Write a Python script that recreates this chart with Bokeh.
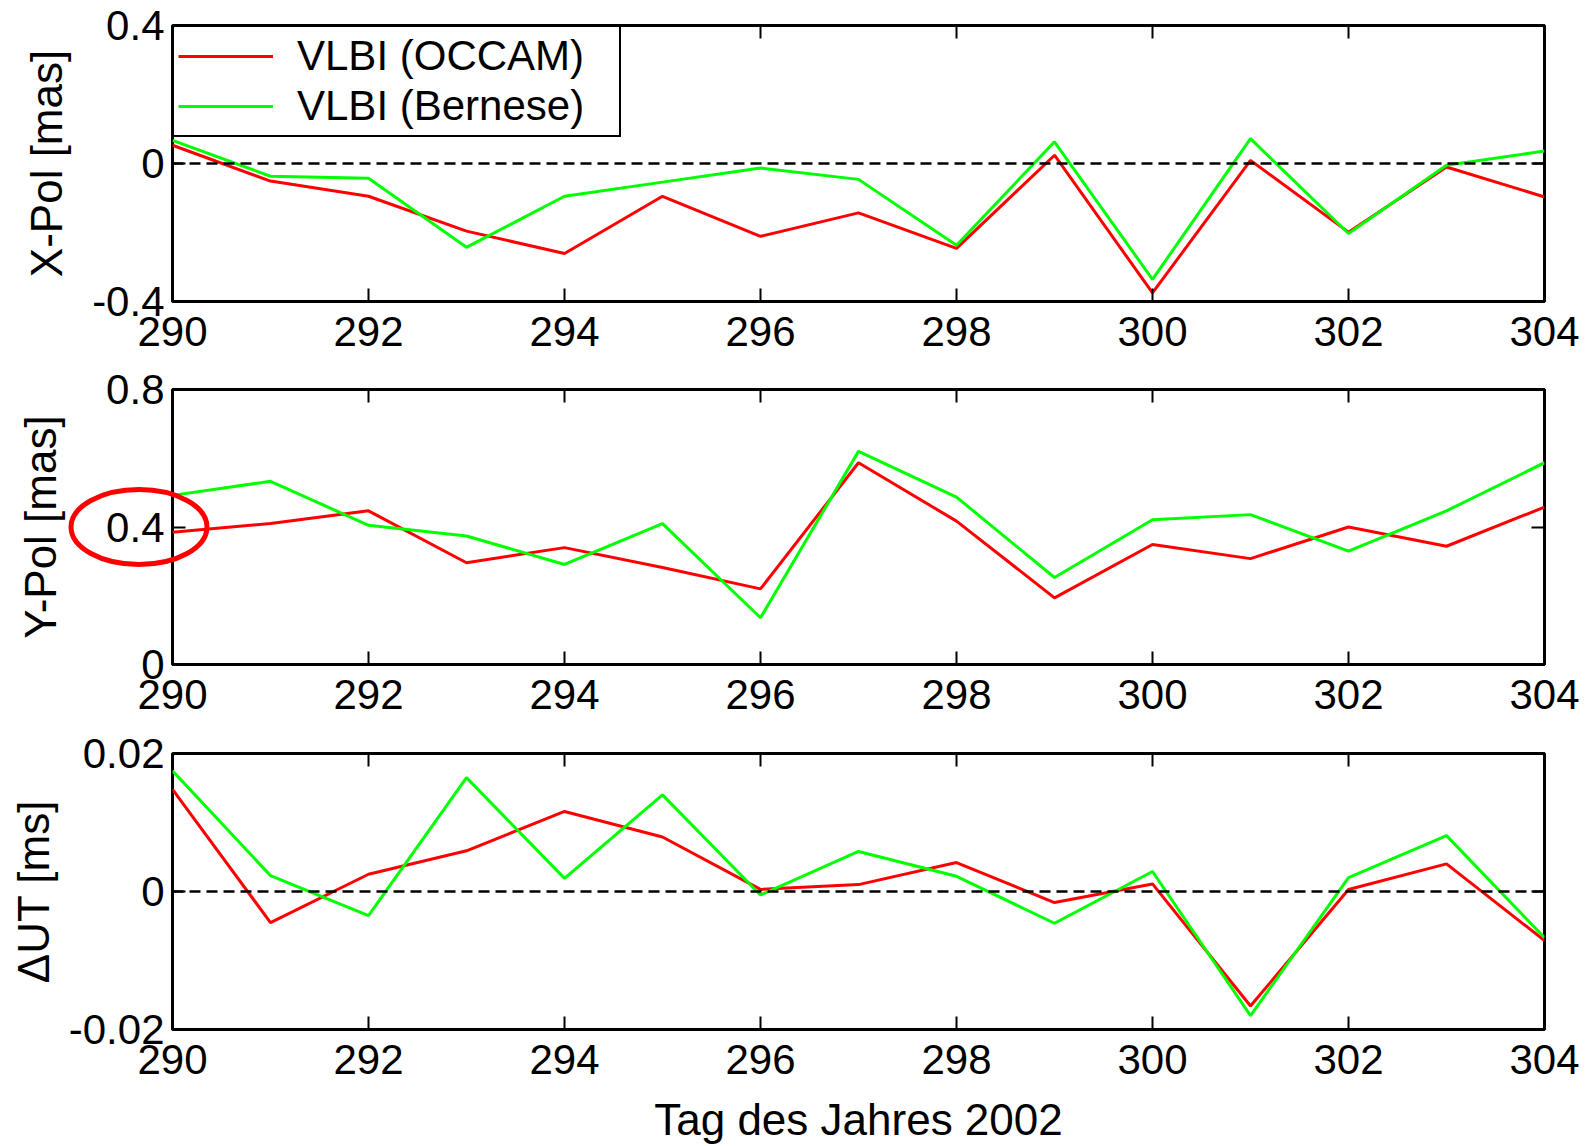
from bokeh.plotting import figure
from bokeh.layouts import column
from bokeh.models import (Range1d, FixedTicker, LinearAxis, Span, Legend,
                          LegendItem, GridBox, CustomLabelingPolicy)
from bokeh.embed import file_html
from bokeh.resources import INLINE

# ---- data: day of year 2002, EOP differences ----
DAYS = [290, 291, 292, 293, 294, 295, 296, 297, 298, 299, 300, 301, 302, 303, 304]
DAY_TICKS = [290, 292, 294, 296, 298, 300, 302, 304]
DAY_TICK_LABELS = ["290", "292", "294", "296", "298", "300", "302", "304"]

XPOL_OCCAM = [0.053, -0.051, -0.095, -0.196, -0.261, -0.095, -0.211, -0.143,
              -0.246, 0.024, -0.375, 0.009, -0.199, -0.010, -0.097]
XPOL_BERNESE = [0.067, -0.037, -0.043, -0.243, -0.095, -0.054, -0.013, -0.046,
                -0.237, 0.063, -0.336, 0.072, -0.203, -0.005, 0.036]

YPOL_OCCAM = [0.385, 0.410, 0.447, 0.296, 0.340, 0.282, 0.220, 0.587,
              0.417, 0.194, 0.349, 0.308, 0.400, 0.344, 0.458]
YPOL_BERNESE = [0.492, 0.533, 0.405, 0.374, 0.291, 0.410, 0.136, 0.620,
                0.487, 0.253, 0.421, 0.436, 0.330, 0.447, 0.587]

DUT_OCCAM = [0.0148, -0.0045, 0.0025, 0.0059, 0.0116, 0.0079, 0.0003, 0.0010,
             0.0042, -0.0016, 0.0011, -0.0166, 0.0003, 0.0040, -0.0071]
DUT_BERNESE = [0.0175, 0.0023, -0.0035, 0.0165, 0.0019, 0.0140, -0.0005, 0.0058,
               0.0022, -0.0046, 0.0029, -0.0180, 0.0020, 0.0081, -0.0067]

XPOL_TICKS = [-0.4, 0, 0.4]
XPOL_TICK_LABELS = ["-0.4", "0", "0.4"]
YPOL_TICKS = [0, 0.4, 0.8]
YPOL_TICK_LABELS = ["0", "0.4", "0.8"]
DUT_TICKS = [-0.02, 0, 0.02]
DUT_TICK_LABELS = ["-0.02", "0", "0.02"]

SERIES_NAMES = ["VLBI (OCCAM)", "VLBI (Bernese)"]
Y_TITLES = ["X-Pol [mas]", "Y-Pol [mas]", "\u0394UT [ms]"]
X_TITLE = "Tag des Jahres 2002"

# ---- styling / geometry ----
FONT = "Liberation Sans"
RED, GREEN = "#ff0000", "#00ff00"
PAGE_W = 1588
FRAME_L, FRAME_R = 172, 1544
PX_PER_DAY = (FRAME_R - FRAME_L) / (DAYS[-1] - DAYS[0])
LINE_W = 3
FRAME_LW = 3


def make_axis(ticks, labels, show_labels=True, title=None, title_standoff=0):
    ax = LinearAxis(ticker=FixedTicker(ticks=ticks))
    ax.major_label_overrides = dict(zip(ticks, labels))
    ax.major_tick_in = 13
    ax.major_tick_out = 0
    ax.minor_tick_in = 0
    ax.minor_tick_out = 0
    ax.major_tick_line_color = "black"
    ax.major_tick_line_width = 2
    ax.axis_line_color = None
    ax.major_label_text_font = FONT
    ax.major_label_text_color = "black"
    if show_labels:
        ax.major_label_text_font_size = "42px"
        ax.major_label_standoff = 8
    else:
        # tick marks only (box style frame): suppress every label
        ax.major_label_text_font_size = "1px"
        ax.major_label_standoff = 0
        ax.major_label_policy = CustomLabelingPolicy(
            code="for (const i of indices) { indices.unset(i) } return indices")
    if title:
        ax.axis_label = title
        ax.axis_label_text_font = FONT
        ax.axis_label_text_font_size = "44px"
        ax.axis_label_text_font_style = "normal"
        ax.axis_label_text_color = "black"
        ax.axis_label_standoff = title_standoff
    return ax


def panel(height, y_ticks, y_labels, y_title, y_standoff, top, bottom,
          x_title=None, x_standoff=0):
    p = figure(width=PAGE_W, height=height,
               x_range=Range1d(DAYS[0], DAYS[-1]),
               y_range=Range1d(y_ticks[0], y_ticks[-1]),
               min_border_left=FRAME_L, min_border_right=PAGE_W - FRAME_R,
               min_border_top=top, min_border_bottom=bottom,
               output_backend="svg", toolbar_location=None,
               x_axis_location=None, y_axis_location=None)
    p.grid.visible = False
    p.background_fill_color = "white"
    p.border_fill_color = "white"
    p.outline_line_color = "black"
    p.outline_line_alpha = 1.0
    p.outline_line_width = FRAME_LW
    bottom_axis = make_axis(DAY_TICKS, DAY_TICK_LABELS, title=x_title,
                            title_standoff=x_standoff)
    bottom_axis.major_label_standoff = 15
    p.add_layout(bottom_axis, "below")
    p.add_layout(make_axis(DAY_TICKS, DAY_TICK_LABELS, show_labels=False), "above")
    p.add_layout(make_axis(y_ticks, y_labels, title=y_title,
                           title_standoff=y_standoff), "left")
    p.add_layout(make_axis(y_ticks, y_labels, show_labels=False), "right")
    return p


def add_series(p, occam, bernese):
    r1 = p.line(DAYS, occam, line_color=RED, line_width=LINE_W)
    r2 = p.line(DAYS, bernese, line_color=GREEN, line_width=LINE_W)
    return r1, r2


def zero_line():
    return Span(location=0, dimension="width", line_color="black",
                line_width=2.5, line_dash="11 6")


# ---- X-Pol panel ----
p1 = panel(360, XPOL_TICKS, XPOL_TICK_LABELS, Y_TITLES[0], 18, 25, 59)
p1.add_layout(zero_line())
ro, rb = add_series(p1, XPOL_OCCAM, XPOL_BERNESE)

legend = Legend(items=[LegendItem(label=SERIES_NAMES[0], renderers=[ro]),
                       LegendItem(label=SERIES_NAMES[1], renderers=[rb])],
                location="top_left", margin=0, padding=4, spacing=0,
                glyph_width=95, glyph_height=50, label_height=50,
                label_width=318, label_standoff=24,
                label_text_font=FONT, label_text_font_size="42px",
                label_text_color="black",
                border_line_color="black", border_line_alpha=1.0,
                border_line_width=2.5,
                background_fill_color="white", background_fill_alpha=1.0)
p1.add_layout(legend)

# ---- Y-Pol panel ----
Y2_H, Y2_TOP, Y2_BOTTOM = 360, 29, 56
p2 = panel(Y2_H, YPOL_TICKS, YPOL_TICK_LABELS, Y_TITLES[1], 38, Y2_TOP, Y2_BOTTOM)
p2.frame_align = False
add_series(p2, YPOL_OCCAM, YPOL_BERNESE)

# transparent overlay over the whole Y-Pol panel (its frame fills the figure),
# sharing the panel's data scale; carries the red ellipse round the 0.4 label
px_per_unit = (Y2_H - Y2_TOP - Y2_BOTTOM) / (YPOL_TICKS[-1] - YPOL_TICKS[0])
overlay = figure(width=PAGE_W, height=Y2_H,
                 x_range=Range1d(DAYS[0] - FRAME_L / PX_PER_DAY,
                                 DAYS[0] + (PAGE_W - FRAME_L) / PX_PER_DAY),
                 y_range=Range1d(YPOL_TICKS[0] - Y2_BOTTOM / px_per_unit,
                                 YPOL_TICKS[-1] + Y2_TOP / px_per_unit),
                 min_border=0, min_border_left=0, min_border_right=0,
                 min_border_top=0, min_border_bottom=0,
                 output_backend="svg", toolbar_location=None,
                 x_axis_location=None, y_axis_location=None)
overlay.frame_align = False
overlay.grid.visible = False
overlay.outline_line_color = None
overlay.background_fill_alpha = 0
overlay.border_fill_alpha = 0
overlay.ellipse(x=[DAYS[0] - 33.5 / PX_PER_DAY], y=[YPOL_TICKS[1]],
                width=136, height=75, width_units="screen", height_units="screen",
                fill_color=None, line_color=RED, line_width=5)

middle = GridBox(children=[(p2, 0, 0), (overlay, 0, 0)])

# ---- dUT panel ----
p3 = panel(426, DUT_TICKS, DUT_TICK_LABELS, Y_TITLES[2], 8, 33, 117,
           x_title=X_TITLE, x_standoff=18)
p3.add_layout(zero_line())
add_series(p3, DUT_OCCAM, DUT_BERNESE)

layout = column(p1, middle, p3, spacing=0)
open("out.html", "w").write(file_html(layout, INLINE))
